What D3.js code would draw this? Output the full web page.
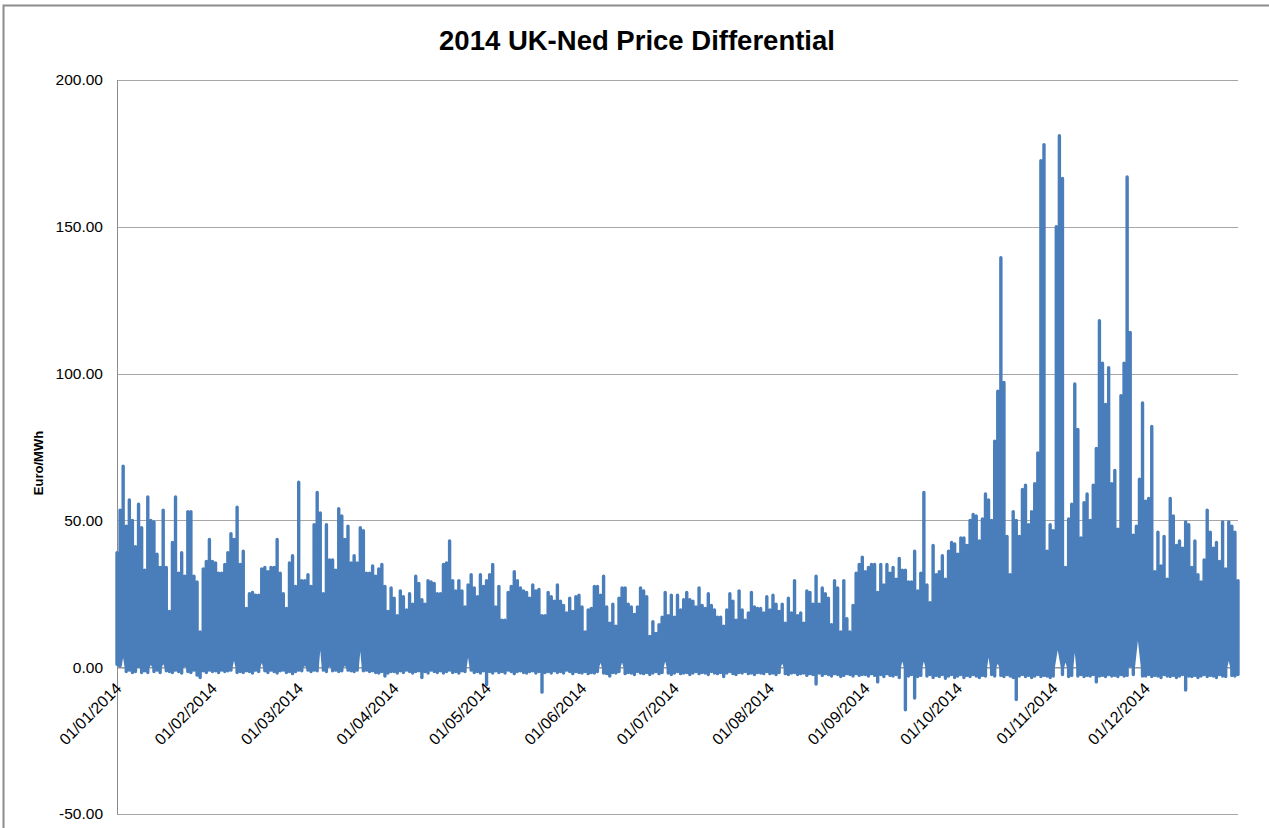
<!DOCTYPE html>
<html>
<head>
<meta charset="utf-8">
<script src="https://cdn.jsdelivr.net/npm/d3@7"></script>
<style>
    body { margin: 0; background: #fff; }
    svg { display: block; }
</style>
</head>
<body>
<svg id="chart"></svg>
<script>
// values: daily peak and daily trough of the price differential (Euro/MWh)
var yTicks = [-50, 0, 50, 100, 150, 200];

var dailyHigh = [
    // Jan
    39, 53.5, 68.5, 48, 57, 50, 41, 55.5, 47.5, 33, 58, 50, 49.5, 38.5, 34, 53.5, 34, 19, 42.5, 58, 32, 39, 31, 53, 53, 31, 29, 12, 33.5, 36, 43.5,
    // Feb
    36, 35.5, 32, 32, 35, 39, 45.5, 43.5, 54.5, 35, 39.5, 20, 25, 25.5, 24.5, 24.5, 33.5, 34, 32.5, 34, 34, 43.5, 32, 25, 20, 35.5, 38, 27.5,
    // Mar
    63, 29.5, 29.5, 31.5, 27.5, 48.5, 59.5, 52.5, 25, 48.5, 36.5, 36.5, 33, 54, 51.5, 43.5, 48, 35.5, 38, 35.5, 47.5, 46.5, 32, 32, 34.5, 31, 33.5, 35, 27.5, 19, 27,
    // Apr
    23.5, 17.5, 26, 24, 19.5, 25, 21.5, 31, 28.5, 23, 21.5, 29.5, 29, 28.5, 25, 25, 35, 35.5, 43, 29.5, 26, 29.5, 26, 20.5, 28, 31.5, 27, 24, 31.5, 27.5,
    // May
    29.5, 31.5, 35, 20.5, 27.5, 16, 16, 25.5, 27.5, 32.5, 29.5, 27, 26, 25.5, 23.5, 28, 26, 26.5, 17.5, 17.5, 25.5, 24, 22.5, 28, 22.5, 21, 18.5, 23.5, 19, 24, 24.5,
    // Jun
    20.5, 12, 19.5, 20, 27.5, 27.5, 24.5, 31, 20.5, 15, 21.5, 14, 23.5, 27, 27, 21.5, 20.5, 18, 20.5, 27, 26, 24, 10.5, 15.5, 11.5, 14.5, 17, 25.5, 17.5, 24.5,
    // Jul
    17, 24.5, 19.5, 23, 25.5, 23, 22.5, 20.5, 27, 21, 20, 25, 21, 19.5, 17, 17, 14, 19.5, 25, 22.5, 16, 26, 19.5, 16, 18.5, 25.5, 20.5, 20, 20, 18.5, 24,
    // Aug
    19.5, 24.5, 21.5, 19, 21.5, 15, 23.5, 18.5, 29.5, 17.5, 18.5, 15, 26, 25.5, 21.5, 31, 21.5, 27, 25, 23.5, 14.5, 29.5, 27, 12, 29.5, 16.5, 12, 21, 32, 35, 37.5,
    // Sep
    32.5, 34, 35, 35, 25.5, 35, 28, 35, 32, 34, 30, 37, 33, 33, 29, 29, 39.5, 26, 32, 59.5, 28, 22, 41.5, 31.5, 32.5, 38, 30, 39.5, 42.5, 42,
    // Oct
    38.5, 44, 44, 41.5, 50, 52, 51.5, 43, 50.5, 59, 57, 50, 77, 94, 139.5, 97, 44.5, 31.5, 53, 50, 44.5, 60.5, 62, 48.5, 53, 62.5, 73, 172.5, 178, 39.5, 48.5,
    // Nov
    46.5, 150, 181, 166.5, 34, 50.5, 55.5, 96.5, 81, 44, 56, 59, 50, 62, 74.5, 118, 103.5, 89.5, 102, 62.5, 67, 47, 92.5, 103.5, 167, 114, 45, 48, 64, 90,
    // Dec
    56.5, 57.5, 82, 32.5, 46, 34.5, 44.5, 30, 57.5, 51.5, 41.5, 43, 40.5, 49.5, 48.5, 34, 43, 31.5, 29, 36.5, 53.5, 46, 40.5, 42.5, 36, 49.5, 33.5, 49.5, 48, 46, 29.5
];

var dailyLow = [
    // Jan
    1, 0.5, 7, -1.5, -1, -1.8, -1.5, 0.5, -1.8, -1.2, -1.8, 2, -1.5, -1, -1.8, 2.5, -1.2, -1.5, -1.8, -1, -1.5, -2, 1, -1.5, -1.8, -1, -2.7, -3.5, -1.2, -1.8, -1,
    // Feb
    -1.5, -1.2, -1.8, -1, -1.5, -1.2, -1, 5, -1.8, -1.5, -1.8, -1.2, -1.5, -2, -1, -1.5, 3.5, -1.2, -1.8, -1, -1.5, -2, -1.2, -1, -1.8, -1.5, -2.2, -1.5,
    // Mar
    -1, -1.2, 1.5, -1, -1.5, -1, -1.2, 13, -1, -1.5, 1, -1.2, -1, -1.5, -1.2, 1.5, -1, -1.2, -1.5, -1, 12, -1.2, -1, -1.5, -1.2, -1.8, -2, -1.5, -3, -2, -1.5,
    // Apr
    -1.5, -2, -1.2, -1.8, -1, -1.5, -2, -1.5, -1.2, -3.5, -1.5, -2, -1, -1.5, -1.8, -1.2, -2, -1.5, -1, -1.8, -1.5, -2, -1.2, -1.5, 7.5, -1, -1.8, -1.5, -2, -1.2,
    // May
    -6, -1.5, -2, -1.2, -1.8, -1.5, -2, -1, -1.5, -2.2, -1.5, -1.2, -1.8, -2, -1.5, -1.2, -2, -1.5, -8.5, -1.8, -1.5, -2, -1.2, -1.8, -1.5, -2, -1, -1.5, -2.2, -1.5, -1.8,
    // Jun
    -2, -1.5, -2.2, -1.8, -2, -1.5, 3.5, -2, -2.2, -3, -1.8, -2, -1.5, 4, -2.2, -1.8, -2, -2.5, -1.5, -2, -2.2, -1.8, -2.5, -2, -1.5, -2.2, -1.8, 4.5, -2, -2.5,
    // Jul
    -2, -1.5, -2.2, -2, -1.8, -2.5, -2, -1.5, -2.2, -1.8, -2, -2.5, -1.5, -2, -2.2, -1.8, -3.2, -2, -1.5, -2.2, -2.5, -1.8, -2, -1.5, -2.2, -2, -2.5, -1.8, -2, -2.2, -1.5,
    // Aug
    -2.2, -2, -2.5, -1.8, 3, -2.2, -2.5, -2, -1.8, -2.5, -2.2, -2, -2.8, -2.2, -2.5, -5.7, -2, -2.8, -2.2, -2.5, -3, -2.2, -2.5, -3.2, -2.8, -2.2, -2.5, -3, -2.2, -2.8, -2.5,
    // Sep
    -2.5, -3, -2.2, -2.8, -5, -2.5, -3.2, -2.2, -2.8, -3, -2.5, -3.5, 4.5, -14.5, -3, -2.5, -10.5, -3.2, -2.8, 4.5, -3, -2.5, -3.5, -2.8, -3.2, -2.5, -3.8, -3, -2.5, -3.5,
    // Oct
    -3, -2.5, -3.5, -2.8, -3.2, -2.5, -3, -3.5, -2.8, -3, 7.5, -2.5, -3, 3, -2.8, -3.2, -2.5, -3, -3.5, -11, -3, -2.5, -3.2, -2.8, -3.5, -3, -2.5, -3.2, -2.8, -3, -3.5,
    // Nov
    -3, 6.5, 6, -2.5, 4, -3.2, -2.8, 11, -3, -2.5, -3.2, -2.8, -3, -2.5, -5, -3, -2.8, -3.2, -2.5, -3, -2.8, -3.2, -2.5, -3, -2.8, 0.7, -2.5, 9.5, 9.5, -3,
    // Dec
    -3, -2.5, -3.2, -2.8, -3, -3.5, -2.5, -3, -3.2, -2.8, -3.5, -3, -2.5, -7.8, -3, -3.2, -2.8, -3.5, -3, -2.5, -3.2, -2.8, -3, -3.5, -2.5, -3, -3.2, 4.9, -2.8, -3, -2.5
];

var dimensions = {
    width: 1269,
    height: 828,
    margin: { top: 80, right: 31, bottom: 14, left: 117 }
};

var DAY = 86400000;
var start = Date.UTC(2014, 0, 1);

var svg = d3.select("#chart")
    .attr("width", dimensions.width)
    .attr("height", dimensions.height)
    .style("font-family", "'Liberation Sans', Arial, sans-serif");

// chart area border (only top and left are inside the picture)
svg.append("path")
    .attr("d", "M3.5,828 V5.5 H1269")
    .attr("fill", "none")
    .attr("stroke", "#8c8c8c")
    .attr("stroke-width", 2);

var xScale = d3.scaleUtc()
    .domain([new Date(start), new Date(Date.UTC(2014, 11, 31))])
    .range([dimensions.margin.left, dimensions.width - dimensions.margin.right]);

var yScale = d3.scaleLinear()
    .domain([-50, 200])
    .range([dimensions.height - dimensions.margin.bottom, dimensions.margin.top]);

// gridlines
svg.append("g")
    .selectAll("line")
    .data(yTicks)
    .enter()
    .append("line")
    .attr("x1", dimensions.margin.left)
    .attr("x2", dimensions.width - dimensions.margin.right)
    .attr("y1", d => Math.round(yScale(d)) + 0.5)
    .attr("y2", d => Math.round(yScale(d)) + 0.5)
    .attr("stroke", "#a6a6a6")
    .attr("stroke-width", 1);

// vertical axis line
svg.append("line")
    .attr("x1", dimensions.margin.left + 0.5)
    .attr("x2", dimensions.margin.left + 0.5)
    .attr("y1", yScale(200))
    .attr("y2", yScale(-50))
    .attr("stroke", "#8c8c8c");

// y tick labels
var yAxis = svg.append("g")
    .attr("transform", `translate(${dimensions.margin.left}, 0)`)
    .call(d3.axisLeft(yScale).tickValues(yTicks).tickFormat(d => d.toFixed(2)).tickSize(0).tickPadding(14));
yAxis.select(".domain").remove();
yAxis.selectAll("text")
    .style("font-family", "'Liberation Sans', Arial, sans-serif")
    .style("font-size", "15.5px")
    .attr("fill", "#000");

// x axis at zero with month labels
var xAxis = svg.append("g")
    .attr("transform", `translate(0, ${Math.round(yScale(0)) + 0.5})`)
    .call(d3.axisBottom(xScale).ticks(d3.utcMonth.every(1)).tickFormat(d3.utcFormat("%d/%m/%Y")).tickSize(0));
xAxis.select(".domain")
    .attr("stroke", "#8c8c8c");
xAxis.selectAll("text")
    .attr("x", 0)
    .attr("y", 0)
    .attr("dy", null)
    .attr("text-anchor", "end")
    .attr("transform", "translate(5, 22) rotate(-45)")
    .attr("fill", "#000")
    .style("font-family", "'Liberation Sans', Arial, sans-serif")
    .style("font-size", "16px");

// series: the hours of one day share one x position on the date axis,
// so each day is a vertical run down to its trough and up to its peak;
// days are joined near the zero line so that dips stay narrow
var points = [];
dailyHigh.forEach(function (hi, i) {
    var t = new Date(start + i * DAY);
    var lo = dailyLow[i];
    var join = Math.max(lo, 0);
    points.push({ t: t, v: join }, { t: t, v: lo }, { t: t, v: hi }, { t: t, v: join });
});

var line = d3.line()
    .x(d => xScale(d.t))
    .y(d => yScale(d.v));

svg.append("path")
    .datum(points)
    .attr("d", line)
    .attr("fill", "none")
    .attr("stroke", "#4a7ebb")
    .attr("stroke-width", 3.4)
    .attr("stroke-linejoin", "round")
    .attr("stroke-linecap", "round");

// title
svg.append("text")
    .attr("x", 637)
    .attr("y", 50)
    .attr("text-anchor", "middle")
    .style("font-size", "27.5px")
    .style("font-weight", "bold")
    .text("2014 UK-Ned Price Differential");

// y axis title
svg.append("text")
    .attr("transform", "translate(43, 463) rotate(-90)")
    .attr("text-anchor", "middle")
    .style("font-size", "13px")
    .style("font-weight", "bold")
    .text("Euro/MWh");
</script>
</body>
</html>
